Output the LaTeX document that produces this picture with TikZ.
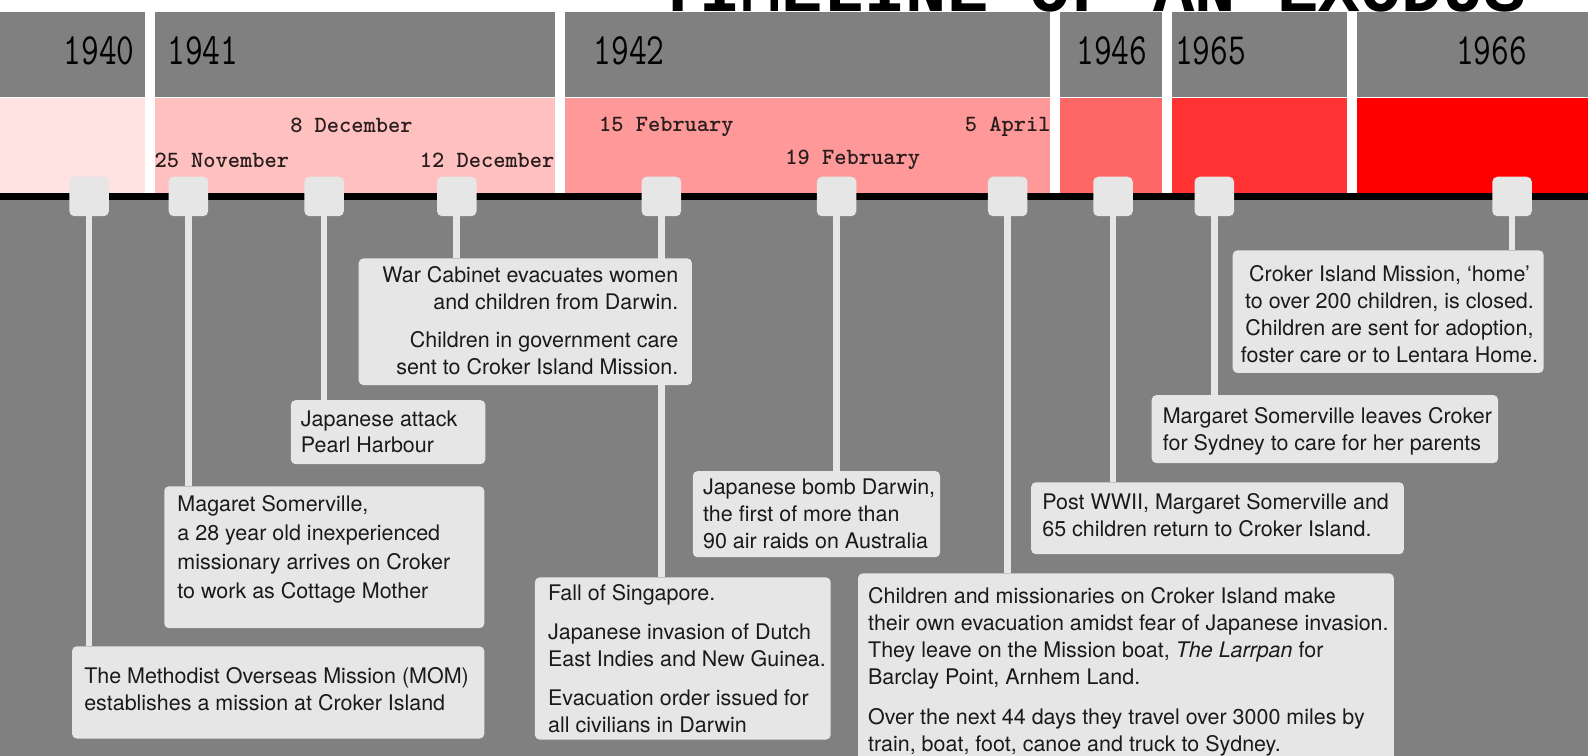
\documentclass[tikz,border=0pt]{standalone}
\usepackage{fontspec}
\setmainfont{TeX Gyre Heros}
\newfontfamily\titlefont{Liberation Mono}
\definecolor{bggray}{RGB}{128,128,128}
\definecolor{boxgray}{RGB}{230,230,230}
\definecolor{txtc}{RGB}{26,26,26}
\definecolor{datec}{RGB}{40,28,28}
\definecolor{pA}{RGB}{255,226,226}
\definecolor{pB}{RGB}{255,192,192}
\definecolor{pC}{RGB}{255,153,153}
\definecolor{pD}{RGB}{255,102,102}
\definecolor{pE}{RGB}{255,51,51}
\definecolor{pF}{RGB}{255,0,0}
\pgfdeclarelayer{bglayer}
\pgfdeclarelayer{midlayer}
\pgfsetlayers{bglayer,midlayer,main}
\tikzset{
  box/.style={fill=boxgray, rounded corners=4.5pt, draw=none, inner sep=0pt, anchor=north west},
  txt/.style={font=\fontsize{21.2}{26.5}\selectfont, text=txtc, inner sep=0pt, anchor=north west, align=left},
  marker/.style={fill=boxgray, rounded corners=5pt, minimum size=39pt, inner sep=0pt, draw=none},
  conn/.style={draw=boxgray, line width=6.5pt},
  yr/.style={font=\fontsize{34}{34}\selectfont\ttfamily, text=black, inner sep=0pt},
  dt/.style={font=\fontsize{23}{23}\selectfont\ttfamily\bfseries, text=datec, inner sep=0pt},
  ttl/.style={font=\fontsize{68}{68}\selectfont\titlefont\bfseries, text=black, inner sep=0pt}
}
\begin{document}
\begin{tikzpicture}[x=1pt,y=-1pt]
\useasboundingbox (0,0) rectangle (1568,746);
\clip (0,0) rectangle (1568,746);
\begin{pgfonlayer}{bglayer}
  \fill[white] (0,0) rectangle (1568,746);
  % year segments: gray top band and pink band
  \fill[bggray] (0,12) rectangle (143,96);     \fill[pA] (0,97) rectangle (143,192);
  \fill[bggray] (153,12) rectangle (548,96);   \fill[pB] (153,97) rectangle (548,192);
  \fill[bggray] (558,12) rectangle (1037,96);  \fill[pC] (558,97) rectangle (1037,192);
  \fill[bggray] (1047,12) rectangle (1147,96); \fill[pD] (1047,97) rectangle (1147,192);
  \fill[bggray] (1157,12) rectangle (1330,96); \fill[pE] (1157,97) rectangle (1330,192);
  \fill[bggray] (1340,12) rectangle (1568,96); \fill[pF] (1340,97) rectangle (1568,192);
  \fill[bggray] (0,197) rectangle (1568,746);
  \fill[black] (0,190.5) rectangle (1568,197.5);
\end{pgfonlayer}

% title (cut by the top edge)
\node[ttl, anchor=base] (title) at (1078,11) {TIMELINE OF AN EXODUS};

% years
\node[yr, anchor=east] (y1940) at (133,50) {\scalebox{1}[1.3]{1940}};
\node[yr, anchor=west] (y1941) at (165,50) {\scalebox{1}[1.3]{1941}};
\node[yr, anchor=west] (y1942) at (586,50) {\scalebox{1}[1.3]{1942}};
\node[yr, anchor=east] (y1946) at (1133,50) {\scalebox{1}[1.3]{1946}};
\node[yr, anchor=west] (y1965) at (1160,50) {\scalebox{1}[1.3]{1965}};
\node[yr, anchor=east] (y1966) at (1508,50) {\scalebox{1}[1.3]{1966}};

% dates
\node[dt] (d8dec) at (347,124) {8 December};
\node[dt] (d25nov) at (219,158) {25 November};
\node[dt] (d12dec) at (481,158) {12 December};
\node[dt] (d15feb) at (658,125) {15 February};
\node[dt] (d19feb) at (842,158) {19 February};
\node[dt] (d5apr) at (995,125) {5 April};

% markers
\node[marker] (m1) at (88,194) {};
\node[marker] (m2) at (186,194) {};
\node[marker] (m3) at (320,194) {};
\node[marker] (m4) at (451,194) {};
\node[marker] (m5) at (653,194) {};
\node[marker] (m6) at (826,194) {};
\node[marker] (m7) at (995,194) {};
\node[marker] (m8) at (1099,194) {};
\node[marker] (m9) at (1199,194) {};
\node[marker] (m10) at (1493,194) {};

% boxes
\node[box, minimum width=407pt, minimum height=91pt] (b1) at (71,638) {};
\node[box, minimum width=316pt, minimum height=140pt] (b2) at (162,480) {};
\node[box, minimum width=192pt, minimum height=63pt] (b3) at (287,395) {};
\node[box, minimum width=329pt, minimum height=125pt] (b4) at (354,255) {};
\node[box, minimum width=292pt, minimum height=160pt] (b5) at (528,570) {};
\node[box, minimum width=244pt, minimum height=85pt] (b6) at (684,465) {};
\node[box, minimum width=529pt, minimum height=200pt] (b7) at (847,566) {};
\node[box, minimum width=368pt, minimum height=71pt] (b8) at (1018,476) {};
\node[box, minimum width=342pt, minimum height=67pt] (b9) at (1137,390) {};
\node[box, minimum width=307pt, minimum height=121pt] (b10) at (1217,247) {};

% texts
\node[txt] (t1) at (83,659) {The Methodist Overseas Mission (MOM)\\establishes a mission at Croker Island};
\node[txt, font=\fontsize{21.2}{28.5}\selectfont] (t2) at (175,489) {Magaret Somerville,\\a 28 year old inexperienced\\missionary arrives on Croker\\to work as Cottage Mother};
\node[txt] (t3) at (297,405) {Japanese attack\\Pearl Harbour};
\node[txt, anchor=north east, align=right] (t4) at (670,263) {War Cabinet evacuates women\hspace{7pt}\\and children from Darwin.\\[11pt]Children in government care\hspace{7pt}\\sent to Croker Island Mission.};
\node[txt] (t5) at (541,577) {Fall of Singapore.\\[12pt]Japanese invasion of Dutch\\East Indies and New Guinea.\\[12pt]Evacuation order issued for\\all civilians in Darwin};
\node[txt] (t6) at (694,473) {Japanese bomb Darwin,\\the first of more than\\90 air raids on Australia};
\node[txt] (t7) at (857,580) {Children and missionaries on Croker Island make\\their own evacuation amidst fear of Japanese invasion.\\They leave on the Mission boat, \textit{The Larrpan} for\\Barclay Point, Arnhem Land.\\[13pt]Over the next 44 days they travel over 3000 miles by\\train, boat, foot, canoe and truck to Sydney.};
\node[txt] (t8) at (1029,487) {Post WWII, Margaret Somerville and\\65 children return to Croker Island.};
\node[txt] (t9) at (1148,402) {Margaret Somerville leaves Croker\\for Sydney to care for her parents};
\node[txt, anchor=north, align=center] (t10) at (1372,262) {Croker Island Mission, ‘home’\\to over 200 children, is closed.\\Children are sent for adoption,\\foster care or to Lentara Home.};

% connectors
\begin{pgfonlayer}{midlayer}
  \draw[conn] (m1.center) -- (m1.center |- b1.north);
  \draw[conn] (m2.center) -- (m2.center |- b2.north);
  \draw[conn] (m3.center) -- (m3.center |- b3.north);
  \draw[conn] (m4.center) -- (m4.center |- b4.north);
  \draw[conn] (m5.center) -- (m5.center |- b5.north);
  \draw[conn] (m6.center) -- (m6.center |- b6.north);
  \draw[conn] (m7.center) -- (m7.center |- b7.north);
  \draw[conn] (m8.center) -- (m8.center |- b8.north);
  \draw[conn] (m9.center) -- (m9.center |- b9.north);
  \draw[conn] (m10.center) -- (m10.center |- b10.north);
\end{pgfonlayer}
\end{tikzpicture}
\end{document}
